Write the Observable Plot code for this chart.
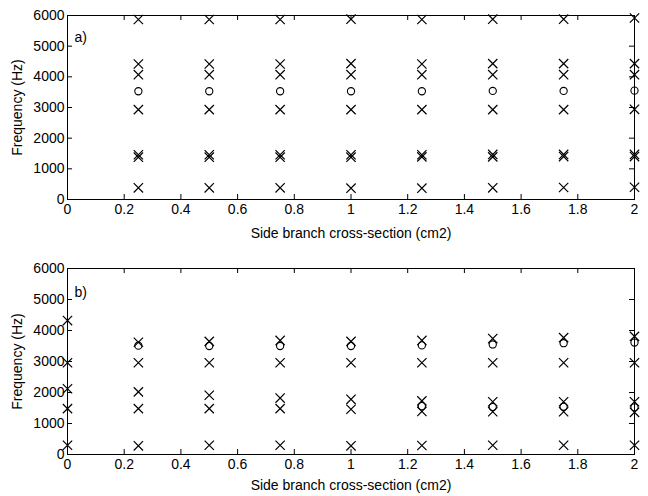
<!DOCTYPE html>
<html>
<head>
<meta charset="utf-8">
<script src="https://cdn.jsdelivr.net/npm/d3@7"></script>
<script src="https://cdn.jsdelivr.net/npm/@observablehq/plot@0.6"></script>
<style>
  body { margin: 0; background: #fff; }
  #chart svg { display: block; }
</style>
</head>
<body>
<div id="chart"></div>
<script>
// x positions (side branch cross-section, cm2)
const xA = [0.25, 0.5, 0.75, 1, 1.25, 1.5, 1.75, 2];
const xB = [0, 0.25, 0.5, 0.75, 1, 1.25, 1.5, 1.75, 2];
const xBHiCircle = [0.25, 0.5, 0.75, 1, 1.25, 1.5, 1.75, 2];
const xBLoCircle = [1.25, 1.5, 1.75, 2];

// Panel a) — crosses (resonances) per mode, and circles
const aMode1 = [5870, 5870, 5870, 5880, 5870, 5880, 5880, 5920];
const aMode2 = [4420, 4420, 4420, 4430, 4420, 4430, 4430, 4430];
const aMode3 = [4070, 4070, 4070, 4070, 4070, 4070, 4070, 4070];
const aMode4 = [2930, 2930, 2930, 2930, 2930, 2930, 2930, 2940];
const aMode5 = [1460, 1460, 1460, 1460, 1460, 1470, 1470, 1470];
const aMode6 = [1380, 1380, 1380, 1380, 1390, 1390, 1400, 1400];
const aMode7 = [380, 380, 380, 370, 370, 380, 390, 400];
const aCircle = [3530, 3530, 3530, 3530, 3530, 3540, 3540, 3550];

// Panel b) — crosses per mode, and circles
const bMode1 = [4320, 3620, 3650, 3680, 3650, 3680, 3740, 3770, 3810];
const bMode2 = [2960, 2960, 2960, 2960, 2960, 2960, 2960, 2960, 2960];
const bMode3 = [2120, 2020, 1910, 1820, 1780, 1730, 1700, 1700, 1700];
const bMode4 = [1480, 1480, 1480, 1480, 1460, 1390, 1380, 1380, 1360];
const bMode5 = [300, 280, 300, 300, 280, 290, 300, 300, 300];
const bCircleHi = [3510, 3500, 3500, 3500, 3520, 3550, 3590, 3610];
const bCircleLo = [1560, 1530, 1540, 1520];

// Axis ticks and labels
const xTicks = [0, 0.2, 0.4, 0.6, 0.8, 1, 1.2, 1.4, 1.6, 1.8, 2];
const yTicks = [0, 1000, 2000, 3000, 4000, 5000, 6000];
const xLabel = "Side branch cross-section (cm2)";
const yLabel = "Frequency (Hz)";
const panelLabels = ["a)", "b)"];

function rows(xs, ys) { return xs.map((x, i) => ({x, y: ys[i]})); }

const crossesA = [aMode1, aMode2, aMode3, aMode4, aMode5, aMode6, aMode7].flatMap(m => rows(xA, m));
const circlesA = rows(xA, aCircle);
const crossesB = [bMode1, bMode2, bMode3, bMode4, bMode5].flatMap(m => rows(xB, m));
const circlesB = rows(xBHiCircle, bCircleHi).concat(rows(xBLoCircle, bCircleLo));

const W = 648, H = 248, mL = 67, mR = 14;
const font = "'Liberation Sans', Arial, Helvetica, sans-serif";

function panel({crosses, circles, label, mT, mB, labelDy, xLabelOffset}) {
  const fw = W - mL - mR, fh = H - mT - mB, tl = 5;
  return Plot.plot({
    width: W, height: H,
    marginLeft: mL, marginRight: mR, marginTop: mT, marginBottom: mB,
    style: {fontFamily: font, fontSize: "14px", color: "black", background: "white", overflow: "visible"},
    x: {domain: [0, 2]},
    y: {domain: [0, 6000]},
    marks: [
      Plot.frame({stroke: "black", strokeWidth: 1}),
      Plot.tickX(xTicks, {x: d => d, insetTop: fh - tl, stroke: "black"}),
      Plot.tickX(xTicks, {x: d => d, insetBottom: fh - tl, stroke: "black"}),
      Plot.tickY(yTicks, {y: d => d, insetRight: fw - tl, stroke: "black"}),
      Plot.tickY(yTicks, {y: d => d, insetLeft: fw - tl, stroke: "black"}),
      Plot.axisX({ticks: xTicks, tickSize: 0, tickPadding: 5, tickFormat: d => String(d),
        label: xLabel, labelAnchor: "center", labelOffset: xLabelOffset, labelArrow: "none", fill: "black"}),
      Plot.axisY({ticks: yTicks, tickSize: 0, tickPadding: 3, tickFormat: d => String(d),
        label: yLabel, labelAnchor: "center", labelOffset: 55, labelArrow: "none", fill: "black"}),
      Plot.dot(crosses, {x: "x", y: "y", symbol: "times", r: 4.3, stroke: "black", strokeWidth: 1.2}),
      Plot.dot(circles, {x: "x", y: "y", symbol: "circle", r: 3.6, stroke: "black", strokeWidth: 1.1, fill: "none"}),
      Plot.text([label], {text: d => d, frameAnchor: "top-left", dx: 7, dy: labelDy, textAnchor: "start", fontSize: 14, fill: "black"})
    ]
  });
}

const root = document.getElementById("chart");
root.appendChild(panel({crosses: crossesA, circles: circlesA, label: panelLabels[0], mT: 15, mB: 49, labelDy: 17, xLabelOffset: 38}));
root.appendChild(panel({crosses: crossesB, circles: circlesB, label: panelLabels[1], mT: 20, mB: 42, labelDy: 19, xLabelOffset: 35}));
</script>
</body>
</html>
